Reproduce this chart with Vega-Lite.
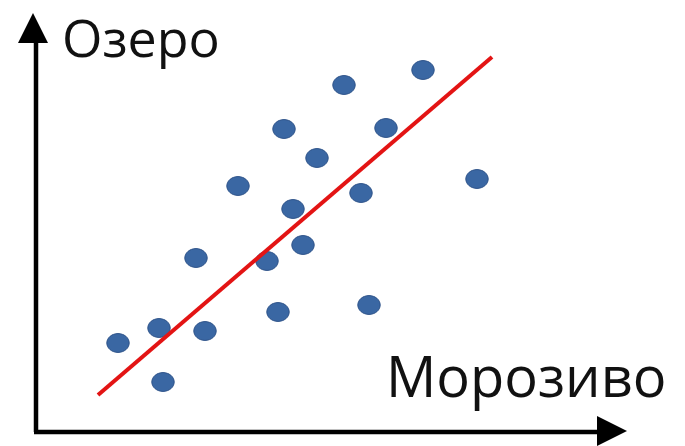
{
  "$schema": "https://vega.github.io/schema/vega-lite/v6.json",
  "width": 685,
  "height": 446,
  "autosize": {"type": "fit", "contains": "padding"},
  "padding": 0,
  "background": "white",
  "config": {"view": {"stroke": null}},
  "datasets": {
    "points": [
      {"x": 82, "y": 89}, {"x": 123, "y": 104}, {"x": 127, "y": 50},
      {"x": 160, "y": 174}, {"x": 169, "y": 101}, {"x": 202, "y": 246},
      {"x": 231, "y": 171}, {"x": 242, "y": 120}, {"x": 248, "y": 303},
      {"x": 257, "y": 223}, {"x": 267, "y": 187}, {"x": 281, "y": 274},
      {"x": 308, "y": 347}, {"x": 325, "y": 239}, {"x": 333, "y": 127},
      {"x": 350, "y": 304}, {"x": 387, "y": 362}, {"x": 441, "y": 253}
    ],
    "trend": [{"x": 62, "y": 37, "x2": 456, "y2": 375}],
    "axes": [
      {"x": 0, "y": 0, "x2": 0, "y2": 395},
      {"x": -2, "y": 0, "x2": 566, "y2": 0}
    ],
    "arrows": [
      {"x": -3, "y": 404, "dir": "up"},
      {"x": 576, "y": 1, "dir": "right"}
    ],
    "labels": [
      {"x": 26, "y": 375, "label": "Озеро", "size": 52},
      {"x": 350, "y": 35, "label": "Морозиво", "size": 56}
    ]
  },
  "layer": [
    {
      "data": {"name": "axes"},
      "mark": {"type": "rule", "color": "black", "strokeWidth": 4.5},
      "encoding": {
        "x": {"field": "x", "type": "quantitative", "scale": {"domain": [-36, 649], "nice": false, "zero": false}, "axis": null},
        "y": {"field": "y", "type": "quantitative", "scale": {"domain": [-14, 432], "nice": false, "zero": false}, "axis": null},
        "x2": {"field": "x2"},
        "y2": {"field": "y2"}
      }
    },
    {
      "data": {"name": "arrows"},
      "transform": [{"filter": "datum.dir === 'up'"}],
      "mark": {"type": "point", "shape": "M0,-1L-1,1L1,1Z", "size": 900, "filled": true, "color": "black", "opacity": 1},
      "encoding": {
        "x": {"field": "x", "type": "quantitative"},
        "y": {"field": "y", "type": "quantitative"}
      }
    },
    {
      "data": {"name": "arrows"},
      "transform": [{"filter": "datum.dir === 'right'"}],
      "mark": {"type": "point", "shape": "M1,0L-1,-1L-1,1Z", "size": 900, "filled": true, "color": "black", "opacity": 1},
      "encoding": {
        "x": {"field": "x", "type": "quantitative"},
        "y": {"field": "y", "type": "quantitative"}
      }
    },
    {
      "data": {"name": "points"},
      "mark": {"type": "point", "shape": "M-1,0A1,0.84 0 1,0 1,0A1,0.84 0 1,0 -1,0Z", "size": 500, "filled": true, "fill": "#3a67a3", "stroke": "#2d5289", "strokeWidth": 1, "opacity": 1},
      "encoding": {
        "x": {"field": "x", "type": "quantitative"},
        "y": {"field": "y", "type": "quantitative"}
      }
    },
    {
      "data": {"name": "trend"},
      "mark": {"type": "rule", "color": "#e31414", "strokeWidth": 4},
      "encoding": {
        "x": {"field": "x", "type": "quantitative"},
        "y": {"field": "y", "type": "quantitative"},
        "x2": {"field": "x2"},
        "y2": {"field": "y2"}
      }
    },
    {
      "data": {"name": "labels"},
      "mark": {"type": "text", "font": "Open Sans", "align": "left", "baseline": "alphabetic", "color": "#111111"},
      "encoding": {
        "x": {"field": "x", "type": "quantitative"},
        "y": {"field": "y", "type": "quantitative"},
        "text": {"field": "label"},
        "size": {"field": "size", "type": "quantitative", "scale": null}
      }
    }
  ]
}
